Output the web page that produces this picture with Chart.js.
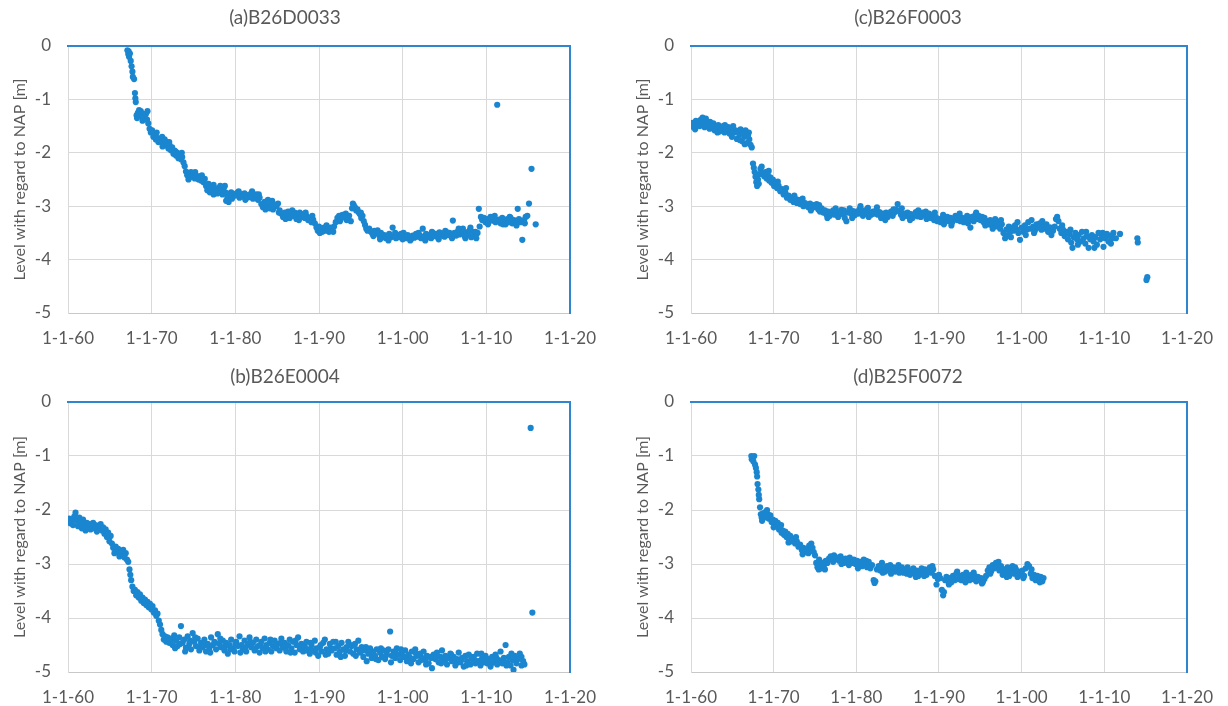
<!DOCTYPE html>
<html>
<head>
<meta charset="utf-8">
<script src="https://cdn.jsdelivr.net/npm/chart.js@4.4.1/dist/chart.umd.min.js"></script>
<style>
  body { margin: 0; background: #fff; }
  canvas { position: absolute; }
</style>
</head>
<body>
<canvas id="panelA" width="614" height="353" style="left:0;top:0"></canvas>
<canvas id="panelC" width="605" height="353" style="left:623px;top:0"></canvas>
<canvas id="panelB" width="614" height="350" style="left:0;top:356px"></canvas>
<canvas id="panelD" width="605" height="350" style="left:623px;top:356px"></canvas>
<script>
// tick labels
const xTickLabels = ['1-1-60', '1-1-70', '1-1-80', '1-1-90', '1-1-00', '1-1-10', '1-1-20'];
const yTickLabels = ['-5', '-4', '-3', '-2', '-1', '0'];
const yTitle = 'Level with regard to NAP [m]';

// (a) B26D0033 - decimal years / level in m
const yearsA = [
  1967.1, 1967.2, 1967.25, 1967.3, 1967.4, 1967.5, 1967.6, 1967.7, 1967.75, 1967.9,
  1968.0, 1968.05, 1968.1, 1968.2, 1968.25, 1968.35, 1968.5, 1968.6, 1968.7, 1968.85,
  1969.0, 1969.15, 1969.3, 1969.45, 1969.6, 1969.75, 1969.9, 1970.05, 1970.2, 1970.35,
  1970.5, 1970.65, 1970.8, 1970.95, 1971.1, 1971.25, 1971.4, 1971.55, 1971.7, 1971.85,
  1972.0, 1972.15, 1972.3, 1972.45, 1972.6, 1972.75, 1972.9, 1973.05, 1973.2, 1973.35,
  1973.5, 1973.65, 1973.8, 1973.95, 1974.1, 1974.25, 1974.4, 1974.55, 1974.7, 1974.85,
  1975.0, 1975.15, 1975.3, 1975.45, 1975.6, 1975.75, 1975.9, 1976.05, 1976.2, 1976.35,
  1976.5, 1976.65, 1976.8, 1976.95, 1977.1, 1977.25, 1977.4, 1977.55, 1977.7, 1977.85,
  1978.0, 1978.15, 1978.3, 1978.45, 1978.6, 1978.75, 1978.9, 1979.05, 1979.2, 1979.35,
  1979.5, 1979.7, 1979.9, 1980.1, 1980.3, 1980.5, 1980.7, 1980.9, 1981.1, 1981.3,
  1981.5, 1981.7, 1981.9, 1982.1, 1982.3, 1982.5, 1982.7, 1982.9, 1983.1, 1983.3,
  1983.5, 1983.7, 1983.9, 1984.1, 1984.3, 1984.5, 1984.7, 1984.9, 1985.1, 1985.3,
  1985.5, 1985.7, 1985.9, 1986.1, 1986.3, 1986.5, 1986.7, 1986.9, 1987.1, 1987.3,
  1987.5, 1987.7, 1987.9, 1988.1, 1988.3, 1988.5, 1988.7, 1988.9, 1989.1, 1989.3,
  1989.5, 1989.7, 1989.85, 1990.0, 1990.2, 1990.4, 1990.6, 1990.8, 1991.0, 1991.2,
  1991.4, 1991.6, 1991.8, 1992.0, 1992.2, 1992.4, 1992.6, 1992.8, 1993.0, 1993.2,
  1993.4, 1993.6, 1993.8, 1993.95, 1994.05, 1994.15, 1994.3, 1994.45, 1994.6, 1994.75,
  1994.9, 1995.05, 1995.2, 1995.35, 1995.5, 1995.65, 1995.8, 1996.0, 1996.2, 1996.4,
  1996.6, 1996.8, 1997.0, 1997.2, 1997.4, 1997.6, 1997.8, 1998.0, 1998.2, 1998.4,
  1998.6, 1998.8, 1999.0, 1999.2, 1999.4, 1999.6, 1999.8, 2000.0, 2000.2, 2000.4,
  2000.6, 2000.8, 2001.0, 2001.2, 2001.4, 2001.6, 2001.8, 2002.0, 2002.2, 2002.4,
  2002.6, 2002.8, 2003.0, 2003.2, 2003.4, 2003.6, 2003.8, 2004.0, 2004.2, 2004.4,
  2004.6, 2004.8, 2005.0, 2005.2, 2005.4, 2005.6, 2005.8, 2006.0, 2006.2, 2006.4,
  2006.6, 2006.8, 2007.0, 2007.2, 2007.4, 2007.6, 2007.8, 2008.0, 2008.2, 2008.4,
  2008.6, 2008.8, 2008.95, 2009.1, 2009.2, 2009.35, 2009.5, 2009.7, 2009.9, 2010.1,
  2010.3, 2010.5, 2010.7, 2010.9, 2011.1, 2011.3, 2011.5, 2011.7, 2011.9, 2012.1,
  2012.3, 2012.5, 2012.7, 2012.9, 2013.1, 2013.3, 2013.5, 2013.75, 2013.9, 2014.1,
  2014.3, 2014.5, 2014.7, 2014.9, 2015.1, 2015.4, 2015.9,
  1968.9, 1969.5, 1970.6, 1971.3, 1972.1, 1972.9, 1973.6, 1974.4, 1975.2, 1976.0,
  1976.8, 1977.4, 1978.2, 1978.9, 1979.6, 1980.4, 1981.2, 1982.0, 1982.8, 1983.6,
  1984.4, 1985.2, 1986.0, 1986.8, 1987.6, 1988.4, 1989.2, 1990.1, 1990.9, 1991.7,
  1992.5, 1993.3, 1995.0, 1996.5, 1997.3, 1998.3, 1999.1, 2000.1, 2000.9, 2001.9,
  2002.7, 2003.5, 2004.3, 2005.1, 2005.9, 2006.7, 2007.5, 2008.1, 2008.7, 2010.2,
  2011.0, 2012.0, 2012.8, 2013.6, 2014.6
];
const levelsA = [
  -0.08, -0.15, -0.10, -0.20, -0.14, -0.28, -0.38, -0.48, -0.58, -0.62,
  -0.88, -0.98, -1.05, -1.30, -1.35, -1.25, -1.20, -1.28, -1.22, -1.32,
  -1.27, -1.35, -1.28, -1.38, -1.45, -1.55, -1.62, -1.58, -1.70, -1.66,
  -1.75, -1.72, -1.80, -1.74, -1.78, -1.70, -1.82, -1.75, -1.86, -1.80,
  -1.92, -1.86, -1.95, -1.90, -2.02, -1.96, -2.05, -2.00, -2.10, -2.06,
  -2.12, -2.08, -2.18, -2.25, -2.35, -2.42, -2.38, -2.46, -2.36, -2.44,
  -2.40, -2.48, -2.42, -2.46, -2.50, -2.44, -2.52, -2.47, -2.55, -2.49,
  -2.62, -2.70, -2.66, -2.74, -2.64, -2.70, -2.60, -2.72, -2.67, -2.76,
  -2.66, -2.74, -2.70, -2.78, -2.68, -2.62, -2.75, -2.84, -2.92, -2.80,
  -2.74, -2.82, -2.77, -2.80, -2.74, -2.84, -2.78, -2.82, -2.76, -2.85,
  -2.79, -2.83, -2.76, -2.86, -2.80, -2.78, -2.88, -2.84, -2.96, -3.02,
  -2.92, -2.98, -2.88, -3.04, -2.96, -3.06, -2.97, -3.00, -2.95, -3.08,
  -3.14, -3.20, -3.12, -3.17, -3.10, -3.22, -3.14, -3.18, -3.12, -3.24,
  -3.16, -3.12, -3.20, -3.15, -3.22, -3.18, -3.26, -3.22, -3.30, -3.25,
  -3.32, -3.40, -3.46, -3.38, -3.44, -3.48, -3.40, -3.46, -3.42, -3.48,
  -3.40, -3.45, -3.38, -3.30, -3.22, -3.18, -3.24, -3.16, -3.20, -3.14,
  -3.22, -3.18, -3.28, -3.04, -2.95, -2.98, -3.02, -3.08, -3.06, -3.12,
  -3.15, -3.22, -3.18, -3.28, -3.35, -3.42, -3.46, -3.42, -3.48, -3.52,
  -3.46, -3.50, -3.45, -3.55, -3.50, -3.58, -3.54, -3.60, -3.55, -3.52,
  -3.58, -3.40, -3.56, -3.60, -3.54, -3.58, -3.52, -3.62, -3.56, -3.60,
  -3.54, -3.58, -3.62, -3.55, -3.59, -3.52, -3.57, -3.54, -3.60, -3.42,
  -3.56, -3.52, -3.58, -3.54, -3.60, -3.50, -3.56, -3.52, -3.58, -3.49,
  -3.55, -3.51, -3.57, -3.48, -3.54, -3.50, -3.56, -3.27, -3.50, -3.55,
  -3.47, -3.53, -3.50, -3.42, -3.56, -3.49, -3.53, -3.45, -3.58, -3.48,
  -3.55, -3.60, -3.50, -3.05, -3.38, -3.20, -3.26, -3.22, -3.30, -3.24,
  -3.28, -3.20, -3.27, -3.23, -3.30, -1.10, -3.25, -3.32, -3.22, -3.28,
  -3.34, -3.24, -3.30, -3.22, -3.32, -3.26, -3.30, -3.05, -3.24, -3.30,
  -3.63, -3.26, -3.20, -3.18, -2.95, -2.30, -3.34,
  -1.40, -1.22, -1.62, -1.88, -1.80, -1.98, -2.00, -2.50, -2.36, -2.42,
  -2.58, -2.78, -2.62, -2.90, -2.86, -2.72, -2.88, -2.72, -2.78, -3.06,
  -2.90, -3.12, -3.24, -3.08, -3.26, -3.12, -3.18, -3.50, -3.36, -3.48,
  -3.28, -3.26, -3.12, -3.56, -3.62, -3.64, -3.50, -3.50, -3.64, -3.50,
  -3.64, -3.48, -3.62, -3.46, -3.60, -3.42, -3.60, -3.40, -3.48, -3.34,
  -3.18, -3.34, -3.20, -3.36, -3.32
];

// (b) B26E0004
const yearsB = [
  1960.0, 1960.15, 1960.3, 1960.45, 1960.6, 1960.75, 1960.9, 1961.05, 1961.2, 1961.35,
  1961.5, 1961.65, 1961.8, 1961.95, 1962.1, 1962.25, 1962.4, 1962.55, 1962.7, 1962.85,
  1963.0, 1963.15, 1963.3, 1963.45, 1963.6, 1963.75, 1963.9, 1964.05, 1964.2, 1964.35,
  1964.5, 1964.65, 1964.8, 1964.95, 1965.1, 1965.25, 1965.4, 1965.55, 1965.7, 1965.85,
  1966.0, 1966.15, 1966.3, 1966.45, 1966.6, 1966.75, 1966.9, 1967.05, 1967.2, 1967.35,
  1967.45, 1967.55, 1967.7, 1967.85, 1968.0, 1968.15, 1968.3, 1968.45, 1968.6, 1968.75,
  1968.9, 1969.05, 1969.2, 1969.35, 1969.5, 1969.65, 1969.8, 1969.95, 1970.1, 1970.25,
  1970.4, 1970.55, 1970.7, 1970.85, 1971.0, 1971.15, 1971.3, 1971.45, 1971.6, 1971.75,
  1971.9, 1972.1, 1972.3, 1972.5, 1972.7, 1972.9, 1973.1, 1973.3, 1973.5, 1973.7,
  1973.9, 1974.1, 1974.3, 1974.5, 1974.7, 1974.9, 1975.1, 1975.3, 1975.5, 1975.7,
  1975.9, 1976.1, 1976.3, 1976.5, 1976.7, 1976.9, 1977.1, 1977.3, 1977.5, 1977.7,
  1977.9, 1978.1, 1978.3, 1978.5, 1978.7, 1978.9, 1979.1, 1979.3, 1979.5, 1979.7,
  1979.9, 1980.1, 1980.3, 1980.5, 1980.7, 1980.9, 1981.1, 1981.3, 1981.5, 1981.7,
  1981.9, 1982.1, 1982.3, 1982.5, 1982.7, 1982.9, 1983.1, 1983.3, 1983.5, 1983.7,
  1983.9, 1984.1, 1984.3, 1984.5, 1984.7, 1984.9, 1985.1, 1985.3, 1985.5, 1985.7,
  1985.9, 1986.1, 1986.3, 1986.5, 1986.7, 1986.9, 1987.1, 1987.3, 1987.5, 1987.7,
  1987.9, 1988.1, 1988.3, 1988.5, 1988.7, 1988.9, 1989.1, 1989.3, 1989.5, 1989.7,
  1989.9, 1990.1, 1990.3, 1990.5, 1990.7, 1990.9, 1991.1, 1991.3, 1991.5, 1991.7,
  1991.9, 1992.1, 1992.3, 1992.5, 1992.7, 1992.9, 1993.1, 1993.3, 1993.5, 1993.7,
  1993.9, 1994.1, 1994.3, 1994.5, 1994.7, 1994.9, 1995.1, 1995.3, 1995.5, 1995.7,
  1995.9, 1996.1, 1996.3, 1996.5, 1996.7, 1996.9, 1997.1, 1997.3, 1997.5, 1997.7,
  1997.9, 1998.1, 1998.3, 1998.5, 1998.7, 1998.9, 1999.1, 1999.3, 1999.5, 1999.7,
  1999.9, 2000.1, 2000.3, 2000.5, 2000.7, 2000.9, 2001.1, 2001.3, 2001.5, 2001.7,
  2001.9, 2002.1, 2002.3, 2002.5, 2002.7, 2002.9, 2003.1, 2003.3, 2003.5, 2003.7,
  2003.9, 2004.1, 2004.3, 2004.5, 2004.7, 2004.9, 2005.1, 2005.3, 2005.5, 2005.7,
  2005.9, 2006.1, 2006.3, 2006.5, 2006.7, 2006.9, 2007.1, 2007.3, 2007.5, 2007.7,
  2007.9, 2008.1, 2008.3, 2008.5, 2008.7, 2008.9, 2009.1, 2009.3, 2009.5, 2009.7,
  2009.9, 2010.1, 2010.3, 2010.5, 2010.7, 2010.9, 2011.1, 2011.3, 2011.5, 2011.7,
  2011.9, 2012.1, 2012.3, 2012.5, 2012.7, 2012.9, 2013.1, 2013.25, 2013.4, 2013.6,
  2013.8, 2014.0, 2014.2, 2014.4, 2014.55, 2015.3, 2015.5,
  1972.2, 1972.8, 1973.4, 1974.0, 1974.6, 1975.2, 1975.8, 1976.4, 1977.0, 1977.6,
  1978.2, 1978.8, 1979.4, 1980.0, 1980.6, 1981.2, 1981.8, 1982.4, 1983.0, 1983.6,
  1984.2, 1984.8, 1985.4, 1986.0, 1986.6, 1987.2, 1987.8, 1988.4, 1989.0, 1989.6,
  1990.2, 1990.8, 1991.4, 1992.0, 1992.6, 1993.2, 1993.8, 1994.4, 1995.0, 1995.6,
  1996.2, 1996.8, 1997.4, 1998.0, 1998.6, 1999.2, 1999.8, 2000.4, 2001.0, 2001.6,
  2002.2, 2002.8, 2003.4, 2004.0, 2004.6, 2005.2, 2005.8, 2006.4, 2007.0, 2007.6,
  2008.2, 2008.8, 2009.4, 2010.0, 2010.6, 2011.2, 2011.8, 2012.4, 2013.0, 2013.6,
  2014.2
];
const levelsB = [
  -2.22, -2.16, -2.25, -2.18, -2.28, -2.12, -2.05, -2.20, -2.30, -2.14,
  -2.24, -2.34, -2.18, -2.28, -2.38, -2.24, -2.32, -2.26, -2.36, -2.30,
  -2.24, -2.34, -2.28, -2.40, -2.30, -2.36, -2.26, -2.38, -2.32, -2.44,
  -2.36, -2.50, -2.42, -2.58, -2.48, -2.62, -2.70, -2.80, -2.68, -2.78,
  -2.72, -2.86, -2.76, -2.82, -2.74, -2.88, -2.80, -2.92, -2.96, -3.10,
  -3.20, -3.30, -3.42, -3.50, -3.48, -3.58, -3.52, -3.62, -3.56, -3.68,
  -3.62, -3.72, -3.66, -3.76, -3.70, -3.80, -3.74, -3.84, -3.78, -3.90,
  -3.86, -3.96, -3.92, -4.05, -4.12, -4.22, -4.30, -4.40, -4.34, -4.44,
  -4.36, -4.46, -4.38, -4.50, -4.32, -4.42, -4.52, -4.36, -4.15, -4.46,
  -4.40, -4.55, -4.34, -4.48, -4.58, -4.28, -4.44, -4.52, -4.38, -4.60,
  -4.46, -4.54, -4.40, -4.62, -4.48, -4.56, -4.36, -4.50, -4.44, -4.58,
  -4.30, -4.48, -4.54, -4.42, -4.60, -4.46, -4.66, -4.50, -4.40, -4.56,
  -4.62, -4.44, -4.52, -4.34, -4.50, -4.58, -4.42, -4.62, -4.48, -4.36,
  -4.54, -4.46, -4.60, -4.40, -4.52, -4.64, -4.44, -4.56, -4.38, -4.50,
  -4.58, -4.46, -4.62, -4.52, -4.42, -4.56, -4.48, -4.60, -4.38, -4.54,
  -4.46, -4.62, -4.50, -4.40, -4.56, -4.44, -4.64, -4.50, -4.36, -4.58,
  -4.48, -4.62, -4.52, -4.44, -4.58, -4.66, -4.50, -4.60, -4.42, -4.56,
  -4.70, -4.54, -4.62, -4.46, -4.40, -4.58, -4.66, -4.48, -4.60, -4.44,
  -4.56, -4.68, -4.52, -4.62, -4.46, -4.58, -4.70, -4.54, -4.44, -4.62,
  -4.52, -4.66, -4.48, -4.58, -4.42, -4.64, -4.54, -4.72, -4.60, -4.80,
  -4.66, -4.56, -4.74, -4.62, -4.70, -4.58, -4.78, -4.64, -4.72, -4.60,
  -4.76, -4.66, -4.58, -4.25, -4.70, -4.62, -4.74, -4.56, -4.68, -4.78,
  -4.64, -4.72, -4.60, -4.80, -4.68, -4.74, -4.62, -4.76, -4.58, -4.70,
  -4.82, -4.66, -4.74, -4.62, -4.78, -4.70, -4.84, -4.72, -4.93, -4.68,
  -4.76, -4.64, -4.82, -4.72, -4.60, -4.78, -4.70, -4.86, -4.74, -4.66,
  -4.80, -4.72, -4.88, -4.76, -4.64, -4.82, -4.74, -4.90, -4.70, -4.80,
  -4.68, -4.86, -4.76, -4.72, -4.84, -4.66, -4.80, -4.88, -4.74, -4.82,
  -4.70, -4.84, -4.76, -4.90, -4.72, -4.82, -4.68, -4.86, -4.78, -4.62,
  -4.84, -4.74, -4.50, -4.82, -4.72, -4.88, -4.78, -4.96, -4.70, -4.84,
  -4.76, -4.66, -4.88, -4.80, -4.86, -0.48, -3.90,
  -4.44, -4.56, -4.48, -4.62, -4.42, -4.36, -4.54, -4.50, -4.64, -4.46,
  -4.38, -4.52, -4.58, -4.48, -4.64, -4.54, -4.44, -4.56, -4.50, -4.62,
  -4.40, -4.52, -4.46, -4.56, -4.64, -4.42, -4.54, -4.60, -4.46, -4.64,
  -4.50, -4.68, -4.56, -4.44, -4.72, -4.60, -4.50, -4.70, -4.62, -4.54,
  -4.64, -4.76, -4.56, -4.70, -4.82, -4.66, -4.58, -4.72, -4.84, -4.66,
  -4.78, -4.86, -4.74, -4.70, -4.84, -4.76, -4.68, -4.84, -4.78, -4.88,
  -4.72, -4.80, -4.66, -4.78, -4.84, -4.74, -4.80, -4.88, -4.66, -4.76,
  -4.72
];

// (c) B26F0003
const yearsC = [
  1960.0, 1960.15, 1960.3, 1960.45, 1960.6, 1960.75, 1960.9, 1961.05, 1961.2, 1961.35,
  1961.5, 1961.65, 1961.8, 1961.95, 1962.1, 1962.25, 1962.4, 1962.55, 1962.7, 1962.85,
  1963.0, 1963.15, 1963.3, 1963.45, 1963.6, 1963.75, 1963.9, 1964.05, 1964.2, 1964.35,
  1964.5, 1964.65, 1964.8, 1964.95, 1965.1, 1965.25, 1965.4, 1965.55, 1965.7, 1965.85,
  1966.0, 1966.15, 1966.3, 1966.45, 1966.6, 1966.75, 1966.9, 1967.05, 1967.2, 1967.35,
  1967.5, 1967.6, 1967.7, 1967.8, 1967.9, 1968.0, 1968.1, 1968.25, 1968.4, 1968.55,
  1968.7, 1968.85, 1969.0, 1969.15, 1969.3, 1969.45, 1969.6, 1969.75, 1969.9, 1970.05,
  1970.2, 1970.4, 1970.6, 1970.8, 1971.0, 1971.2, 1971.4, 1971.6, 1971.8, 1972.0,
  1972.2, 1972.4, 1972.6, 1972.8, 1973.0, 1973.2, 1973.4, 1973.6, 1973.8, 1974.0,
  1974.2, 1974.4, 1974.6, 1974.8, 1975.0, 1975.2, 1975.4, 1975.6, 1975.8, 1976.0,
  1976.2, 1976.4, 1976.6, 1976.8, 1977.0, 1977.2, 1977.4, 1977.6, 1977.8, 1978.0,
  1978.2, 1978.4, 1978.6, 1978.8, 1979.0, 1979.2, 1979.4, 1979.6, 1979.8, 1980.0,
  1980.2, 1980.4, 1980.6, 1980.8, 1981.0, 1981.2, 1981.4, 1981.6, 1981.8, 1982.0,
  1982.2, 1982.4, 1982.6, 1982.8, 1983.0, 1983.2, 1983.4, 1983.6, 1983.8, 1984.0,
  1984.2, 1984.4, 1984.6, 1984.8, 1985.0, 1985.2, 1985.4, 1985.6, 1985.8, 1986.0,
  1986.2, 1986.4, 1986.6, 1986.8, 1987.0, 1987.2, 1987.4, 1987.6, 1987.8, 1988.0,
  1988.2, 1988.4, 1988.6, 1988.8, 1989.0, 1989.2, 1989.4, 1989.6, 1989.8, 1990.0,
  1990.2, 1990.4, 1990.6, 1990.8, 1991.0, 1991.2, 1991.4, 1991.6, 1991.8, 1992.0,
  1992.2, 1992.4, 1992.6, 1992.8, 1993.0, 1993.2, 1993.4, 1993.6, 1993.8, 1994.0,
  1994.2, 1994.4, 1994.6, 1994.8, 1995.0, 1995.2, 1995.4, 1995.6, 1995.8, 1996.0,
  1996.2, 1996.4, 1996.6, 1996.8, 1997.0, 1997.2, 1997.4, 1997.6, 1997.8, 1998.0,
  1998.15, 1998.3, 1998.45, 1998.6, 1998.8, 1999.0, 1999.2, 1999.4, 1999.6, 1999.8,
  2000.0, 2000.2, 2000.4, 2000.6, 2000.8, 2001.0, 2001.2, 2001.4, 2001.6, 2001.8,
  2002.0, 2002.2, 2002.4, 2002.6, 2002.8, 2003.0, 2003.2, 2003.4, 2003.6, 2003.8,
  2004.0, 2004.15, 2004.3, 2004.45, 2004.6, 2004.8, 2005.0, 2005.2, 2005.4, 2005.6,
  2005.8, 2006.0, 2006.15, 2006.3, 2006.5, 2006.7, 2006.9, 2007.1, 2007.3, 2007.5,
  2007.7, 2007.9, 2008.1, 2008.3, 2008.5, 2008.7, 2008.9, 2009.1, 2009.3, 2009.5,
  2009.7, 2009.9, 2010.1, 2010.3, 2010.5, 2010.7, 2010.9, 2011.1, 2011.4, 2011.9,
  2014.0, 2014.05, 2015.1, 2015.2,
  1960.5, 1961.4, 1962.3, 1963.2, 1964.1, 1965.0, 1965.9, 1966.5, 1967.0, 1968.2,
  1969.4, 1970.5, 1971.5, 1972.5, 1973.5, 1974.5, 1975.5, 1976.5, 1977.5, 1978.5,
  1979.5, 1980.5, 1981.5, 1982.5, 1983.5, 1984.5, 1985.5, 1986.5, 1987.5, 1988.5,
  1989.5, 1990.5, 1991.5, 1992.5, 1993.5, 1994.5, 1995.5, 1996.5, 1997.5, 1998.7,
  1999.5, 2000.5, 2001.5, 2002.5, 2003.5, 2004.9, 2005.9, 2006.8, 2007.8, 2008.8,
  2009.8, 2010.8
];
const levelsC = [
  -1.50, -1.44, -1.52, -1.46, -1.40, -1.48, -1.42, -1.50, -1.38, -1.46,
  -1.40, -1.52, -1.36, -1.48, -1.44, -1.55, -1.47, -1.52, -1.45, -1.58,
  -1.50, -1.56, -1.48, -1.60, -1.53, -1.57, -1.50, -1.62, -1.55, -1.59,
  -1.52, -1.64, -1.57, -1.70, -1.50, -1.62, -1.58, -1.74, -1.60, -1.66,
  -1.56, -1.78, -1.62, -1.70, -1.58, -1.82, -1.68, -1.75, -1.85, -1.90,
  -2.20, -2.28, -2.36, -2.45, -2.55, -2.62, -2.50, -2.40, -2.30, -2.26,
  -2.38, -2.44, -2.36, -2.48, -2.42, -2.52, -2.46, -2.56, -2.50, -2.62,
  -2.58, -2.66, -2.62, -2.72, -2.68, -2.78, -2.74, -2.84, -2.80, -2.88,
  -2.84, -2.92, -2.86, -2.94, -2.88, -2.96, -2.92, -3.00, -2.94, -2.98,
  -3.02, -2.95, -3.04, -2.98, -3.02, -2.96, -3.06, -3.10, -3.04, -3.12,
  -3.08, -3.16, -3.10, -3.18, -3.12, -3.08, -3.16, -3.10, -3.20, -3.13,
  -3.07, -3.15, -3.22, -3.28, -3.12, -3.04, -3.14, -3.09, -3.17, -3.10,
  -3.14, -3.06, -3.12, -3.18, -3.08, -3.14, -3.03, -3.12, -3.16, -3.10,
  -3.14, -3.08, -3.16, -3.11, -3.22, -3.14, -3.18, -3.12, -3.20, -3.15,
  -3.10, -3.18, -3.12, -3.06, -2.96, -3.10, -3.16, -3.22, -3.14, -3.18,
  -3.12, -3.20, -3.15, -3.22, -3.16, -3.11, -3.19, -3.14, -3.20, -3.12,
  -3.17, -3.10, -3.18, -3.14, -3.22, -3.18, -3.26, -3.20, -3.28, -3.24,
  -3.30, -3.22, -3.34, -3.26, -3.20, -3.28, -3.22, -3.30, -3.24, -3.18,
  -3.26, -3.20, -3.28, -3.22, -3.30, -3.24, -3.18, -3.26, -3.40, -3.20,
  -3.28, -3.16, -3.24, -3.18, -3.26, -3.20, -3.30, -3.36, -3.28, -3.34,
  -3.26, -3.36, -3.30, -3.24, -3.38, -3.30, -3.42, -3.34, -3.50, -3.60,
  -3.44, -3.55, -3.38, -3.48, -3.40, -3.46, -3.36, -3.44, -3.50, -3.63,
  -3.40, -3.48, -3.36, -3.44, -3.30, -3.42, -3.26, -3.38, -3.46, -3.34,
  -3.40, -3.32, -3.44, -3.36, -3.42, -3.34, -3.48, -3.40, -3.54, -3.46,
  -3.38, -3.24, -3.20, -3.28, -3.42, -3.50, -3.44, -3.56, -3.48, -3.62,
  -3.52, -3.68, -3.78, -3.58, -3.50, -3.62, -3.54, -3.66, -3.48, -3.60,
  -3.70, -3.56, -3.78, -3.62, -3.54, -3.66, -3.58, -3.72, -3.50, -3.62,
  -3.56, -3.76, -3.60, -3.52, -3.66, -3.55, -3.60, -3.50, -3.60, -3.52,
  -3.60, -3.68, -4.38, -4.33,
  -1.56, -1.34, -1.42, -1.62, -1.48, -1.56, -1.76, -1.84, -1.62, -2.58,
  -2.34, -2.54, -2.66, -2.80, -2.86, -3.08, -2.98, -3.22, -3.04, -3.08,
  -3.22, -3.00, -3.20, -3.02, -3.26, -3.06, -3.04, -3.26, -3.08, -3.24,
  -3.12, -3.16, -3.36, -3.14, -3.32, -3.12, -3.22, -3.42, -3.26, -3.58,
  -3.30, -3.54, -3.50, -3.28, -3.40, -3.36, -3.44, -3.72, -3.48, -3.78,
  -3.50, -3.70
];

// (d) B25F0072
const yearsD = [
  1967.3, 1967.35, 1967.45, 1967.55, 1967.65, 1967.75, 1967.85, 1967.95, 1968.0, 1968.05,
  1968.15, 1968.2, 1968.25, 1968.35, 1968.45, 1968.55, 1968.7, 1968.85, 1969.0, 1969.15,
  1969.3, 1969.45, 1969.6, 1969.75, 1969.9, 1970.05, 1970.2, 1970.35, 1970.5, 1970.65,
  1970.8, 1970.95, 1971.1, 1971.25, 1971.4, 1971.55, 1971.7, 1971.85, 1972.0, 1972.2,
  1972.4, 1972.6, 1972.8, 1973.0, 1973.2, 1973.4, 1973.6, 1973.8, 1974.0, 1974.2,
  1974.4, 1974.55, 1974.7, 1974.85, 1975.0, 1975.15, 1975.3, 1975.45, 1975.6, 1975.75,
  1975.9, 1976.1, 1976.3, 1976.5, 1976.7, 1976.9, 1977.1, 1977.3, 1977.5, 1977.7,
  1977.9, 1978.1, 1978.3, 1978.5, 1978.7, 1978.9, 1979.1, 1979.3, 1979.5, 1979.7,
  1979.9, 1980.1, 1980.3, 1980.5, 1980.7, 1980.9, 1981.1, 1981.3, 1981.5, 1981.7,
  1981.9, 1982.1, 1982.2, 1982.3, 1982.5, 1982.7, 1982.9, 1983.1, 1983.3, 1983.5,
  1983.7, 1983.9, 1984.1, 1984.3, 1984.5, 1984.7, 1984.9, 1985.1, 1985.3, 1985.5,
  1985.7, 1985.9, 1986.1, 1986.3, 1986.5, 1986.7, 1986.9, 1987.1, 1987.3, 1987.5,
  1987.7, 1987.9, 1988.1, 1988.3, 1988.5, 1988.7, 1988.9, 1989.1, 1989.3, 1989.5,
  1989.7, 1989.85, 1990.0, 1990.15, 1990.35, 1990.5, 1990.6, 1990.75, 1990.9, 1991.1,
  1991.3, 1991.5, 1991.7, 1991.9, 1992.1, 1992.3, 1992.5, 1992.7, 1992.9, 1993.1,
  1993.3, 1993.5, 1993.7, 1993.9, 1994.1, 1994.3, 1994.5, 1994.7, 1994.9, 1995.1,
  1995.3, 1995.5, 1995.7, 1995.9, 1996.1, 1996.3, 1996.5, 1996.7, 1996.9, 1997.1,
  1997.3, 1997.5, 1997.7, 1997.9, 1998.1, 1998.3, 1998.5, 1998.7, 1998.9, 1999.1,
  1999.3, 1999.5, 1999.7, 1999.9, 2000.1, 2000.3, 2000.5, 2000.7, 2000.9, 2001.1,
  2001.3, 2001.5, 2001.7, 2001.9, 2002.1, 2002.3, 2002.5, 2002.65,
  1968.6, 1969.2, 1970.0, 1970.9, 1971.8, 1972.7, 1973.5, 1974.3, 1975.5, 1976.2,
  1977.2, 1978.2, 1979.2, 1980.2, 1981.2, 1983.2, 1984.2, 1985.2, 1986.2, 1987.2,
  1988.2, 1989.2, 1991.2, 1992.2, 1993.2, 1994.2, 1995.2, 1996.2, 1997.2, 1998.2,
  1999.2, 2000.2, 2001.2, 2002.2
];
const levelsD = [
  -1.00, -1.06, -1.02, -1.10, -1.00, -1.16, -1.22, -1.30, -1.38, -1.52,
  -1.62, -1.72, -1.80, -1.95, -2.08, -2.14, -2.06, -2.12, -2.04, -2.14,
  -2.08, -2.16, -2.10, -2.22, -2.18, -2.26, -2.20, -2.30, -2.24, -2.36,
  -2.32, -2.42, -2.38, -2.46, -2.40, -2.50, -2.44, -2.52, -2.48, -2.58,
  -2.54, -2.62, -2.58, -2.68, -2.64, -2.74, -2.70, -2.78, -2.72, -2.80,
  -2.74, -2.62, -2.70, -2.78, -2.84, -2.98, -3.06, -3.10, -3.02, -3.08,
  -2.98, -3.02, -2.94, -2.98, -2.90, -2.86, -2.92, -2.84, -2.90, -2.88,
  -2.94, -2.86, -2.92, -2.98, -2.90, -2.96, -3.02, -2.94, -2.98, -2.92,
  -3.00, -2.94, -3.02, -2.96, -3.04, -2.92, -3.00, -3.06, -2.96, -3.08,
  -3.02, -3.30, -3.35, -3.32, -3.10, -3.04, -3.12, -2.98, -3.08, -3.14,
  -3.04, -3.10, -3.02, -3.12, -3.06, -3.14, -3.08, -3.02, -3.12, -3.06,
  -3.16, -3.10, -3.18, -3.12, -3.20, -3.14, -3.08, -3.18, -3.12, -3.22,
  -3.14, -3.08, -3.18, -3.10, -3.20, -3.14, -3.06, -3.16, -3.10, -3.22,
  -3.38, -3.28, -3.20, -3.26, -3.48, -3.58, -3.52, -3.30, -3.24, -3.32,
  -3.26, -3.34, -3.22, -3.30, -3.18, -3.28, -3.22, -3.30, -3.20, -3.26,
  -3.16, -3.24, -3.30, -3.20, -3.28, -3.22, -3.32, -3.24, -3.30, -3.26,
  -3.34, -3.28, -3.22, -3.12, -3.06, -3.14, -3.02, -3.08, -2.98, -3.06,
  -3.12, -3.04, -3.20, -3.10, -3.16, -3.06, -3.22, -3.12, -3.04, -3.18,
  -3.10, -3.24, -3.14, -3.20, -3.12, -3.22, -3.08, -3.00, -3.04, -3.18,
  -3.26, -3.20, -3.30, -3.22, -3.28, -3.24, -3.32, -3.26,
  -2.20, -2.00, -2.32, -2.28, -2.60, -2.50, -2.82, -2.66, -2.92, -3.10,
  -2.96, -3.00, -2.88, -3.08, -2.94, -3.16, -3.18, -3.16, -3.06, -3.24,
  -3.22, -3.04, -3.38, -3.14, -3.34, -3.16, -3.36, -3.18, -2.96, -3.24,
  -3.06, -3.26, -3.10, -3.34
];

const FONT = 'Lato, "Open Sans", sans-serif';
const TEXT_COLOR = '#595959';
const GRID_COLOR = '#d9d9d9';
const FRAME_BLUE = '#2f86cf';
const DOT_BLUE = 'rgb(27, 134, 208)';

function makePanel(canvasId, title, years, levels, padRight, xHeight, xPad, titleTop) {
    const ctx = document.getElementById(canvasId).getContext('2d');
    const points = years.map((yr, i) => ({ x: yr, y: levels[i] }));

    return new Chart(ctx, {
        type: 'scatter',
        data: {
            datasets: [{
                data: points,
                backgroundColor: DOT_BLUE,
                borderWidth: 0,
                pointRadius: 3.1,
                pointHoverRadius: 3.1
            }]
        },
        options: {
            responsive: false,
            animation: false,
            events: [],
            layout: { padding: { left: 0, right: padRight, top: 0, bottom: 0 } },
            plugins: {
                legend: { display: false },
                tooltip: { enabled: false },
                title: {
                    display: true,
                    text: title,
                    color: TEXT_COLOR,
                    font: { family: FONT, size: 19, weight: 'normal' },
                    padding: { top: titleTop, bottom: 23.2 - titleTop }
                }
            },
            scales: {
                x: {
                    type: 'linear',
                    position: 'bottom',
                    min: 1960,
                    max: 2020,
                    ticks: {
                        stepSize: 10,
                        autoSkip: false,
                        maxRotation: 0,
                        padding: xPad,
                        color: TEXT_COLOR,
                        font: { family: FONT, size: 17 },
                        callback: (v, i) => xTickLabels[i]
                    },
                    grid: { color: GRID_COLOR, drawTicks: false },
                    border: { color: '#c8c8c8' },
                    afterFit: s => { s.height = xHeight; }
                },
                y: {
                    type: 'linear',
                    position: 'left',
                    min: -5,
                    max: 0,
                    ticks: {
                        stepSize: 1,
                        padding: 17,
                        color: TEXT_COLOR,
                        font: { family: FONT, size: 17 },
                        callback: (v, i) => yTickLabels[i]
                    },
                    title: {
                        display: true,
                        text: yTitle,
                        color: TEXT_COLOR,
                        font: { family: FONT, size: 16 },
                        padding: { top: 10, bottom: 0 }
                    },
                    grid: { color: GRID_COLOR, drawTicks: false },
                    border: { color: GRID_COLOR },
                    afterFit: s => { s.width = 68; }
                },
                // blue frame on top and right of the plot area
                xTop: {
                    type: 'linear',
                    position: 'top',
                    min: 1960,
                    max: 2020,
                    ticks: { display: false },
                    grid: { display: false, drawTicks: false },
                    border: { color: FRAME_BLUE, width: 2 },
                    afterFit: s => { s.height = 0; }
                },
                yRight: {
                    type: 'linear',
                    position: 'right',
                    min: -5,
                    max: 0,
                    ticks: { display: false },
                    grid: { display: false, drawTicks: false },
                    border: { color: FRAME_BLUE, width: 2 },
                    afterFit: s => { s.width = 0; }
                }
            }
        }
    });
}

makePanel('panelA', '(a)B26D0033', yearsA, levelsA, 44, 40, 15, 6.6);
makePanel('panelC', '(c)B26F0003', yearsC, levelsC, 35, 40, 15, 6.6);
makePanel('panelB', '(b)B26E0004', yearsB, levelsB, 44, 34, 15, 9.6);
makePanel('panelD', '(d)B25F0072', yearsD, levelsD, 35, 34, 15, 9.6);
</script>
</body>
</html>
